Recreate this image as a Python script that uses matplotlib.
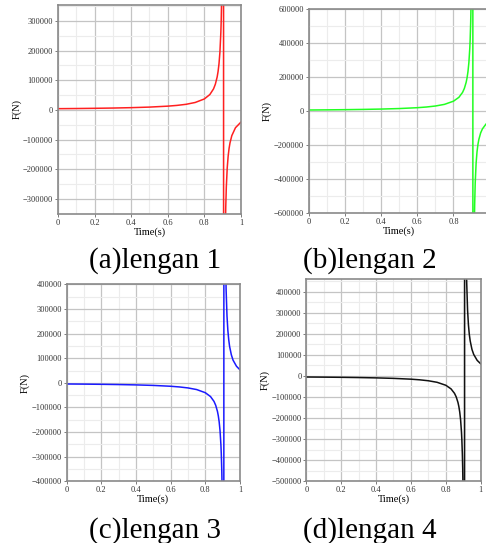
import matplotlib
matplotlib.use('Agg')
import matplotlib.pyplot as plt
from matplotlib.ticker import MultipleLocator

plt.rcParams['font.family'] = ['Liberation Serif', 'DejaVu Serif']

# time (s) and force (N)
t_a = [0, 0.1, 0.2, 0.3, 0.4, 0.5, 0.6, 0.65, 0.7, 0.75, 0.8, 0.83, 0.85, 0.86, 0.87, 0.875, 0.88, 0.885,
       0.89, 0.892, 0.895, 0.897, 0.9, 0.904,
       0.906, 0.91, 0.912, 0.915, 0.917, 0.92, 0.925, 0.93, 0.935, 0.94, 0.95, 0.97, 1.0]
f_a = [4300, 4800, 5500, 6400, 7700, 9600, 12800, 15300, 19000, 25200, 37100, 52000, 70900, 86700, 111400,
       130000, 156000, 195000, 260000, 300000, 390000, 487500, 780000, 3900000,
       -3900000, -780000, -557000, -390000, -325000, -260000, -195000, -156000, -130000, -111400, -86700,
       -60000, -41000]

t_b = [0, 0.1, 0.2, 0.3, 0.4, 0.5, 0.6, 0.65, 0.7, 0.75, 0.8, 0.83, 0.85, 0.86, 0.87, 0.875, 0.88, 0.885,
       0.89, 0.892, 0.895, 0.897, 0.9, 0.906,
       0.908, 0.91, 0.912, 0.915, 0.917, 0.92, 0.925, 0.93, 0.935, 0.94, 0.95, 0.96, 0.98, 1.0]
f_b = [6950, 7810, 8910, 10380, 12430, 15480, 20520, 24510, 30430, 40130, 58880, 81820, 110500, 134000,
       170300, 196900, 233300, 286400, 370600, 420000, 525000, 630000, 900000, 6300000,
       -5500000, -1833000, -1100000, -687500, -550000, -423000, -305600, -239000, -196400, -167000,
       -128000, -104000, -75300, -59100]

t_c = [0, 0.1, 0.2, 0.3, 0.4, 0.5, 0.6, 0.65, 0.7, 0.75, 0.8, 0.83, 0.85, 0.86, 0.87, 0.875, 0.88, 0.885,
       0.89, 0.892, 0.895, 0.897, 0.9, 0.906,
       0.908, 0.91, 0.912, 0.915, 0.917, 0.92, 0.925, 0.93, 0.935, 0.94, 0.95, 0.96, 0.98, 1.0]
f_c = [-4740, -5330, -6080, -7080, -8480, -10570, -14000, -16730, -20770, -27390, -40190, -55840, -75440,
       -91500, -116200, -134400, -159300, -195500, -252900, -286700, -358300, -430000, -614300, -4300000,
       4900000, 1633000, 980000, 612000, 490000, 377000, 272200, 213000, 175000, 148000, 114000, 92000,
       67000, 52700]

t_d = [0, 0.1, 0.2, 0.3, 0.4, 0.5, 0.6, 0.65, 0.7, 0.75, 0.8, 0.83, 0.85, 0.86, 0.87, 0.875, 0.88, 0.885,
       0.89, 0.892, 0.895, 0.897, 0.9, 0.907,
       0.909, 0.912, 0.915, 0.917, 0.92, 0.925, 0.93, 0.935, 0.94, 0.95, 0.96, 0.98, 1.0]
f_d = [-5290, -5940, -6780, -7890, -9450, -11760, -15580, -18600, -23080, -30380, -44440, -61540, -82760,
       -100000, -126300, -145500, -171400, -208700, -266700, -300000, -369200, -436400, -600000, -4800000,
       5300000, 1325000, 757000, 588900, 442000, 311800, 241000, 196300, 166000, 126000, 102000, 73600,
       57600]

x_ticks = [0, 0.2, 0.4, 0.6, 0.8, 1]
x_labels = ['0', '0.2', '0.4', '0.6', '0.8', '1']

y_ticks_a = [-300000, -200000, -100000, 0, 100000, 200000, 300000]
y_ticks_b = [-600000, -400000, -200000, 0, 200000, 400000, 600000]
y_ticks_c = [-400000, -300000, -200000, -100000, 0, 100000, 200000, 300000, 400000]
y_ticks_d = [-500000, -400000, -300000, -200000, -100000, 0, 100000, 200000, 300000, 400000]

captions = ['(a)lengan 1', '(b)lengan 2', '(c)lengan 3', '(d)lengan 4']


def lab(v):
    return '0' if v == 0 else ('\u2212' if v < 0 else '') + str(abs(v))


def panel(rect, t, f, color, yticks, ylim, ymin_step, xlabels=x_labels):
    ax = fig.add_axes(rect)
    ax.plot(t, f, color=color, lw=1.1)
    ax.set_xlim(0, 1)
    ax.set_ylim(*ylim)
    ax.set_xticks(x_ticks)
    ax.set_xticklabels(xlabels)
    ax.set_yticks(yticks)
    ax.set_yticklabels([lab(v) for v in yticks])
    ax.xaxis.set_minor_locator(MultipleLocator(0.1))
    ax.yaxis.set_minor_locator(MultipleLocator(ymin_step))
    ax.grid(which='major', color='#c4c4c4', lw=0.9)
    ax.grid(which='minor', color='#ececec', lw=0.8)
    ax.set_axisbelow(True)
    for s in ax.spines.values():
        s.set_color('#8a8a8a')
        s.set_linewidth(1.2)
    ax.tick_params(which='major', labelsize=6, length=2, width=0.6, color='#666666',
                   labelcolor='#333333', pad=1.5)
    ax.tick_params(which='minor', length=0)
    ax.set_xlabel('Time(s)', fontsize=7.5, labelpad=0.5)
    ax.set_ylabel('F(N)', fontsize=7.5, labelpad=1)
    return ax


fig = plt.figure(figsize=(4.86, 5.43), dpi=100)

panel([0.1193, 0.6059, 0.3765, 0.3849], t_a, f_a, '#ff2020', y_ticks_a, (-351000, 354000), 50000)
# panel b runs past the right edge of the picture, its "1" label is cut off
panel([0.6352, 0.6077, 0.3724, 0.3751], t_b, f_b, '#22ff22', y_ticks_b, (-600000, 600000), 100000,
      x_labels[:-1] + [''])
panel([0.1372, 0.1136, 0.3566, 0.3628], t_c, f_c, '#1a1aff', y_ticks_c, (-400000, 400000), 50000)
panel([0.6302, 0.1136, 0.3588, 0.3720], t_d, f_d, '#111111', y_ticks_d, (-500000, 458000), 50000)

cap_pos = [(155, 268), (370, 268), (155, 538), (370, 538)]
for (cx, cy), txt in zip(cap_pos, captions):
    fig.text(cx / 486, 1 - cy / 543, txt, fontsize=21, ha='center', va='baseline')

fig.savefig('out.png', dpi=100)
